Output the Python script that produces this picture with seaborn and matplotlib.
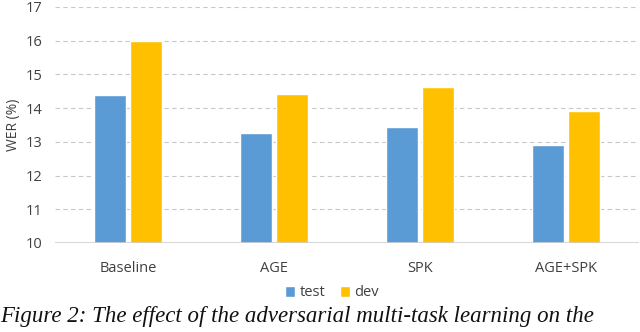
import pandas as pd
import matplotlib.pyplot as plt
import seaborn as sns

# values
categories = ['Baseline', 'AGE', 'SPK', 'AGE+SPK']
test_wer = [14.38, 13.25, 13.45, 12.92]
dev_wer = [16.0, 14.42, 14.63, 13.92]
series = ['test', 'dev']
yticks = [10, 11, 12, 13, 14, 15, 16, 17]

df = pd.DataFrame({
    'cond': categories * 2,
    'set': ['test'] * len(categories) + ['dev'] * len(categories),
    'wer': test_wer + dev_wer,
})

sns.set_style('white')
plt.rcParams['font.family'] = ['Open Sans', 'DejaVu Sans']

fig = plt.figure(figsize=(6.4, 3.32), dpi=100)
ax = fig.add_axes([55 / 640, 1 - 243 / 332, 584 / 640, 236 / 332])

sns.barplot(data=df, x='cond', y='wer', hue='set', hue_order=series,
            palette={'test': '#5B9BD5', 'dev': '#FFC000'}, saturation=1,
            width=0.5, gap=0.12, ax=ax, zorder=3, legend=True)

ax.set_ylim(10, 17)
ax.set_yticks(yticks)
ax.set_xlim(-0.5, len(categories) - 0.5)
ax.yaxis.grid(True, linestyle=(0, (4, 3)), color='#c8c8c8', linewidth=0.8, zorder=0)
ax.axhline(10, color='#d0d0d0', linewidth=1.2, zorder=4)
for s in ax.spines.values():
    s.set_visible(False)
ax.tick_params(axis='both', length=0, labelsize=10.5, colors='#404040')
ax.tick_params(axis='x', pad=13)
ax.tick_params(axis='y', pad=9)
ax.set_xlabel('')
ax.set_ylabel('WER (%)', fontsize=10, color='#404040', labelpad=3)

ax.legend(loc='center', frameon=False,
          ncol=2, fontsize=10.5, handlelength=0.7, handleheight=0.7,
          handletextpad=0.3, columnspacing=1.0, labelcolor='#404040')
leg = ax.get_legend()
leg.set_bbox_to_anchor((332 / 640, 1 - 293 / 332), transform=fig.transFigure)

# caption (cropped in the source image), kept inside the canvas
fig.text(0.0, 1 - 306 / 332, 'Figure 2: The effect of the adversarial multi-task learning on the',
         family=['Liberation Serif'], style='italic', fontsize=16.5, va='top', ha='left',
         color='#111111')

fig.savefig('out.png', dpi=100)
